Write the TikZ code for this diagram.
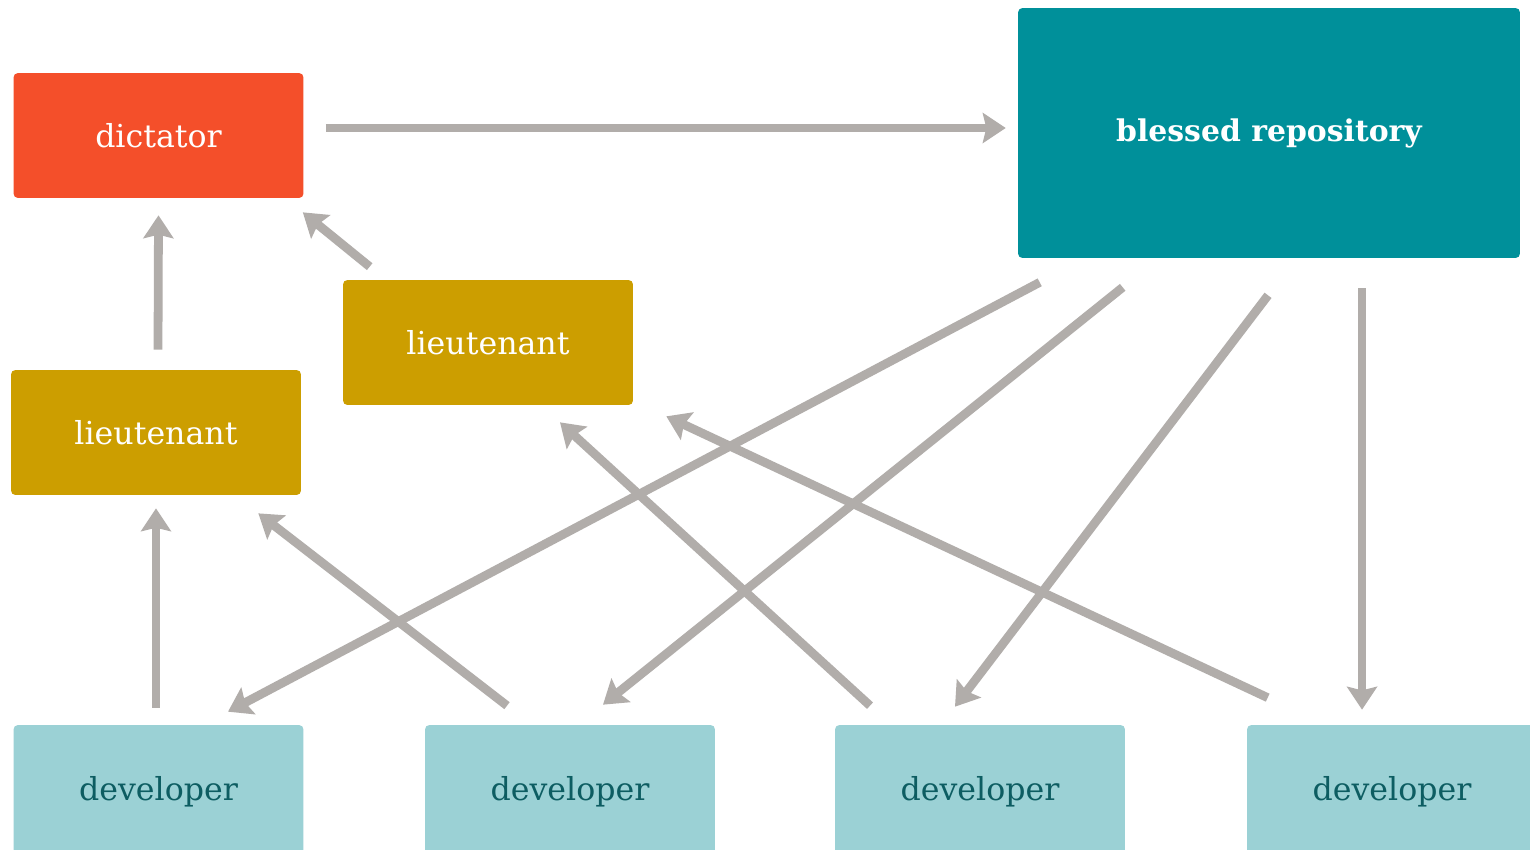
\documentclass[tikz,border=0pt]{standalone}
\usepackage{fontspec}
\setmainfont{DejaVu Serif}
\usetikzlibrary{arrows.meta}

\definecolor{dictred}{HTML}{F44F2A}
\definecolor{blessteal}{HTML}{00909A}
\definecolor{ltgold}{HTML}{CC9E00}
\definecolor{devblue}{HTML}{9BD1D5}
\definecolor{devtext}{HTML}{0D5D62}
\definecolor{flowgray}{HTML}{B1ADAA}

\begin{document}
\begin{tikzpicture}[x=0.02cm, y=-0.02cm,
	box/.style={rounded corners=2.5pt, minimum width=5.8cm, minimum height=2.5cm, font=\fontsize{18}{21}\selectfont},
	dictbox/.style={box, fill=dictred, text=white},
	ltbox/.style={box, fill=ltgold, text=white},
	devbox/.style={box, fill=devblue, text=devtext, minimum height=2.68cm},
	repobox/.style={box, fill=blessteal, text=white, minimum width=10.04cm, minimum height=5cm, font=\fontsize{17}{20}\selectfont\bfseries},
	flow/.style={draw=flowgray, line width=5pt, -{Stealth[length=13pt, width=17pt, inset=2pt]}}]
	\fill[white] (0,0) rectangle (1530,849);
	\useasboundingbox (0,0) rectangle (1530,849);
	\clip (0,0) rectangle (1530,849);
	% boxes
	\node[dictbox] (dict) at (158.5,135.5) {dictator};
	\node[repobox] (repo) at (1269,133) {blessed repository};
	\node[ltbox] (lt1) at (488,342.5) {lieutenant};
	\node[ltbox] (lt2) at (156,432.5) {lieutenant};
	\node[devbox] (dev1) at (158.5,792) {developer};
	\node[devbox] (dev2) at (570,792) {developer};
	\node[devbox] (dev3) at (980,792) {developer};
	\node[devbox] (dev4) at (1392,792) {developer};
	% pushes up the hierarchy
	\draw[flow] ([shift={(22,-7.5)}]dict.east) -- ([shift={(-12,-5)}]repo.west);
	\draw[flow] ([shift={(2,-20)}]lt2.north) -- ([shift={(0,17)}]dict.south);
	\draw[flow] ([shift={(27,-13)}]lt1.north west) -- ([shift={(-1,14)}]dict.south east);
	\draw[flow] ([shift={(-2.5,-17)}]dev1.north) -- ([shift={(0,13)}]lt2.south);
	\draw[flow] ([shift={(-63,-19)}]dev2.north) -- ([shift={(-43,18)}]lt2.south east);
	\draw[flow] ([shift={(-110,-19)}]dev3.north) -- ([shift={(72,17)}]lt1.south);
	\draw[flow] ([shift={(21,-27)}]dev4.north west) -- ([shift={(33,11)}]lt1.south east);
	% pulls from the blessed repository
	\draw[flow] ([shift={(22,24)}]repo.south west) -- ([shift={(69.5,-13)}]dev1.north);
	\draw[flow] ([shift={(105,29)}]repo.south west) -- ([shift={(33,-20)}]dev2.north);
	\draw[flow] ([shift={(-1,37)}]repo.south) -- ([shift={(-25,-18)}]dev3.north);
	\draw[flow] ([shift={(93,30)}]repo.south) -- ([shift={(-30,-15)}]dev4.north);
\end{tikzpicture}
\end{document}
